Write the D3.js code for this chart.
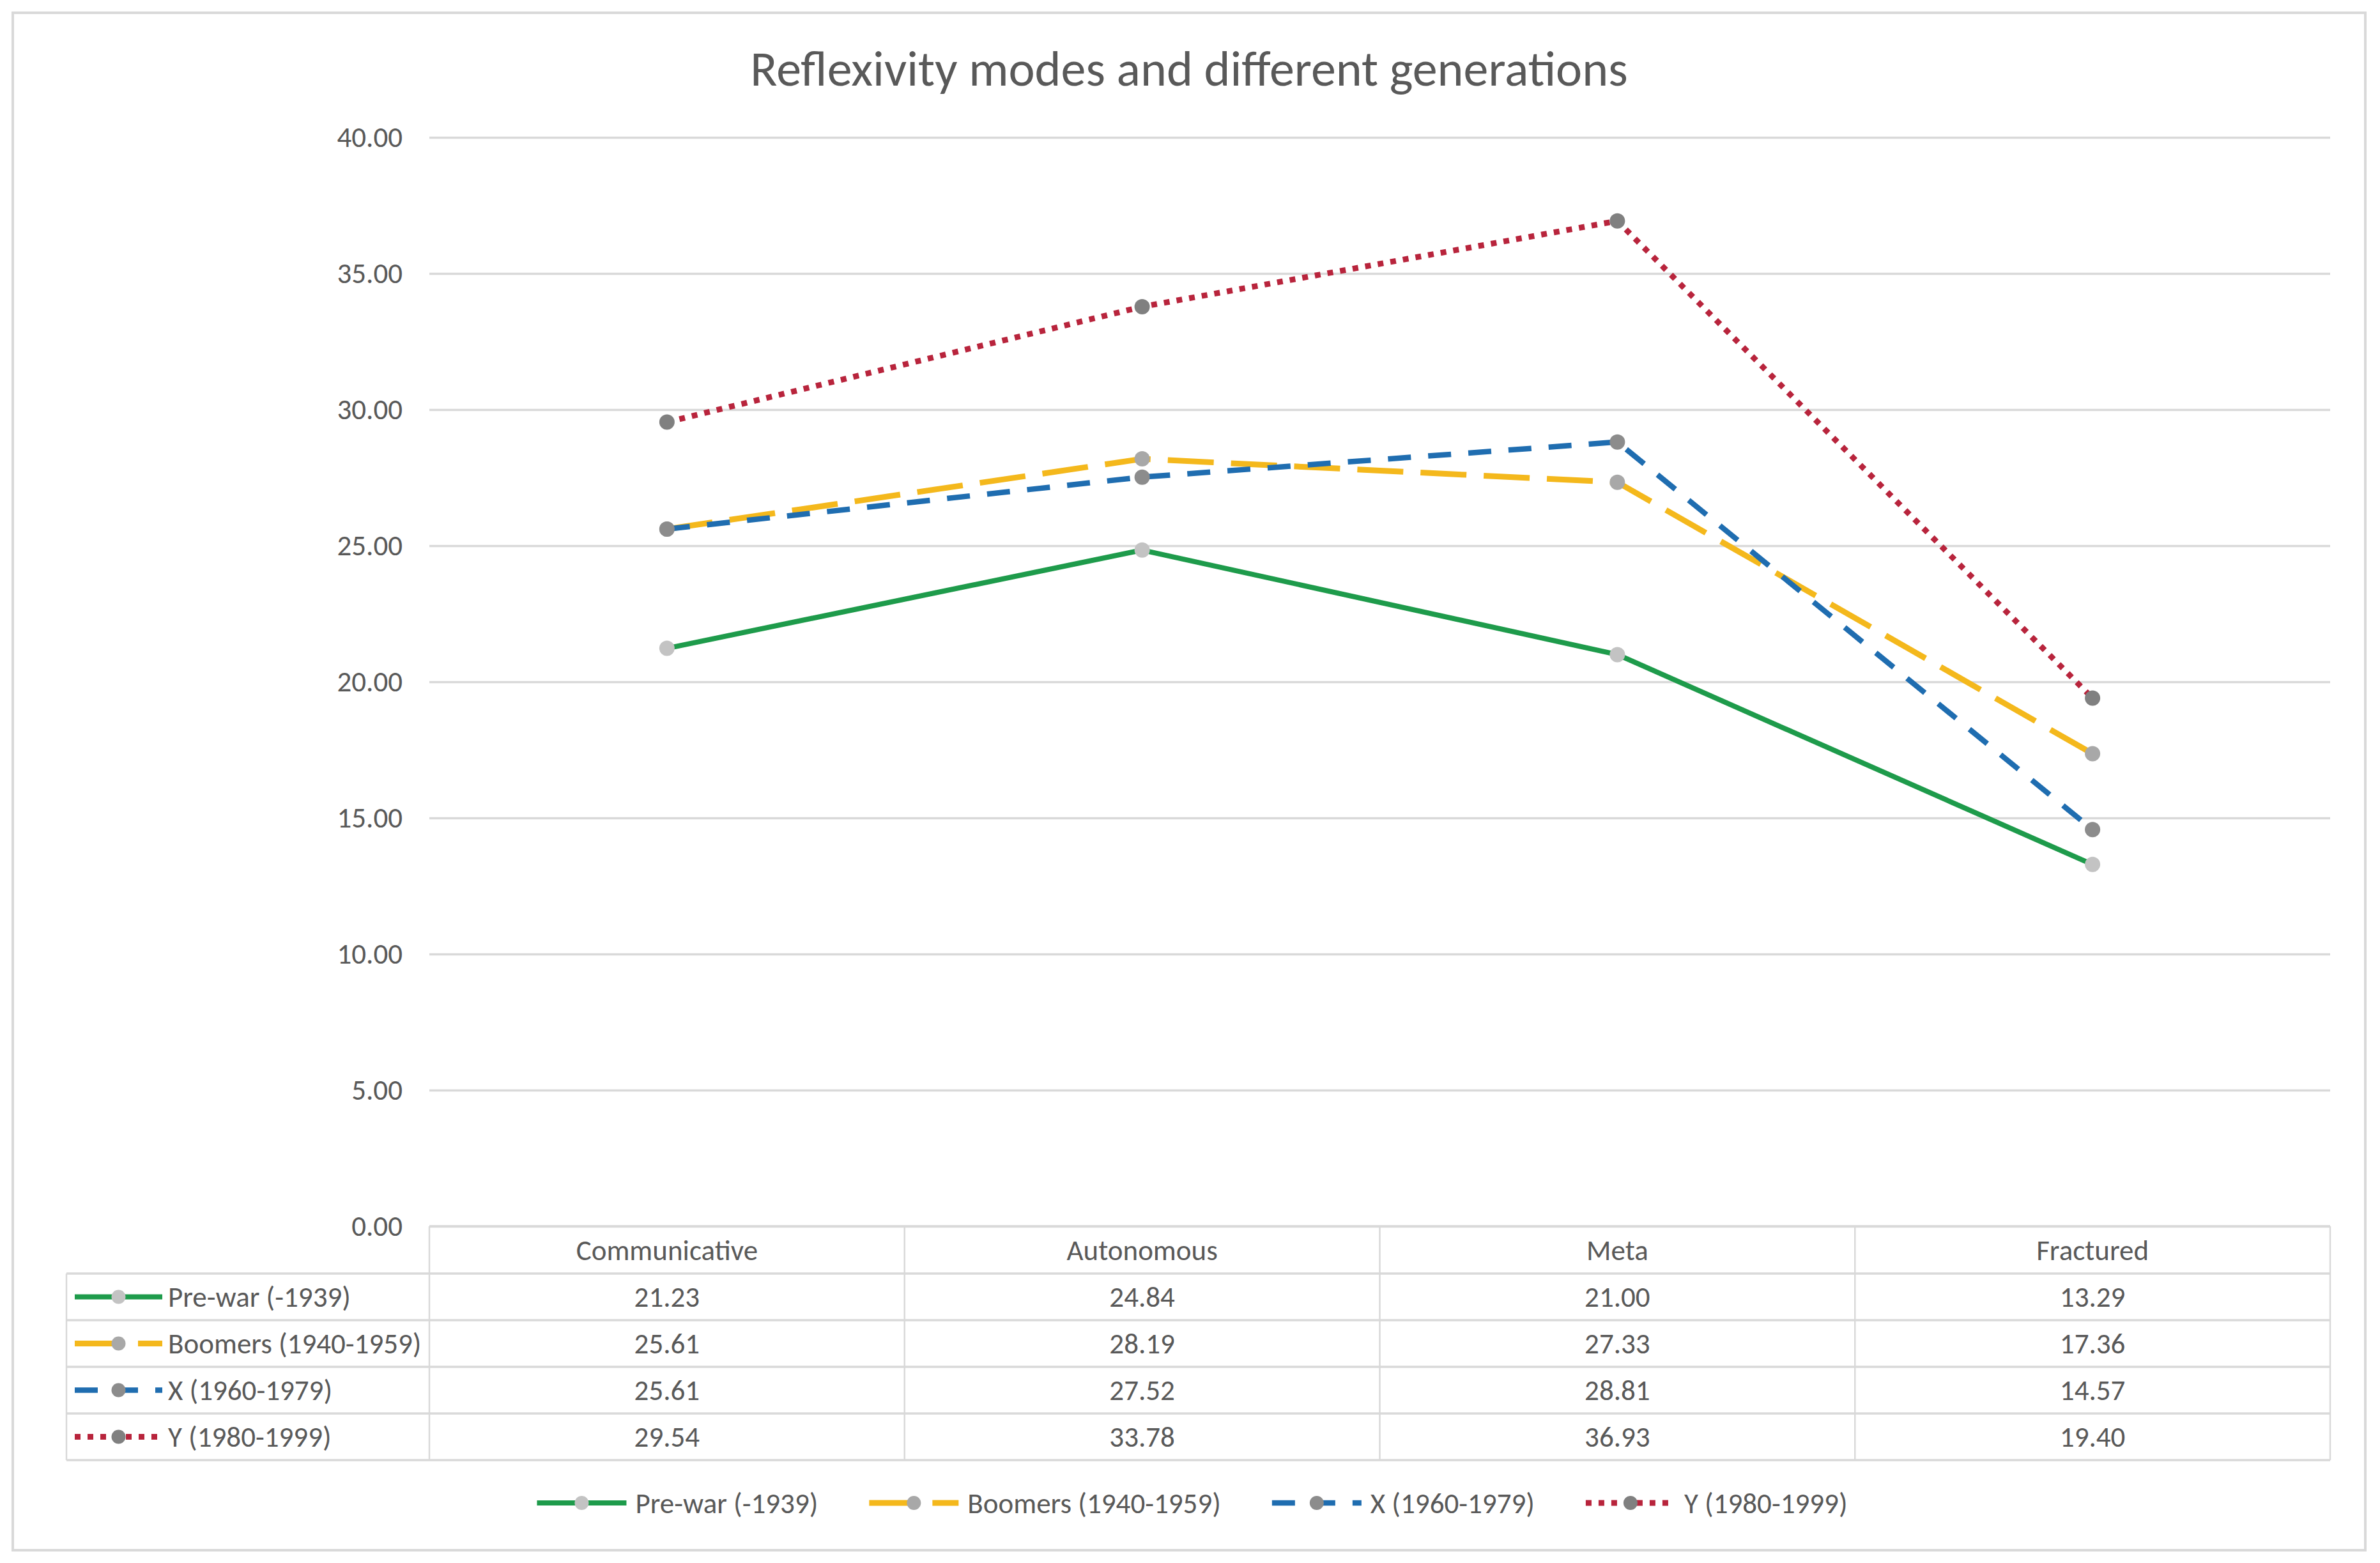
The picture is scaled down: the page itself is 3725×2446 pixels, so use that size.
<!DOCTYPE html>
<html>
<head>
<meta charset="utf-8">
<script src="https://cdn.jsdelivr.net/npm/d3@7"></script>
<style>
  html, body { margin: 0; padding: 0; background: #fff; }
  svg { display: block; }
  text { font-family: Carlito, Calibri, Lato, "Open Sans", sans-serif; fill: #595959; }
</style>
</head>
<body>
<svg id="chart" width="3725" height="2446"></svg>
<script>
// ---- data ----
const title = "Reflexivity modes and different generations";
const categories = ["Communicative", "Autonomous", "Meta", "Fractured"];
const seriesNames = ["Pre-war (-1939)", "Boomers (1940-1959)", "X (1960-1979)", "Y (1980-1999)"];
const preWar  = [21.23, 24.84, 21.00, 13.29];
const boomers = [25.61, 28.19, 27.33, 17.36];
const genX    = [25.61, 27.52, 28.81, 14.57];
const genY    = [29.54, 33.78, 36.93, 19.40];
const yTicks  = [0, 5, 10, 15, 20, 25, 30, 35, 40];

// ---- styles ----
const lineColors   = ["#1E9B4B", "#F4B81C", "#1F6DB0", "#B8243C"];
const markerColors = ["#C3C3C3", "#A8A8A8", "#8C8C8C", "#808080"];
const lineWidths   = [8, 9, 8.5, 9];
const dashes       = [null, "72 27", "36 27", "9 11"];

const seriesValues = [preWar, boomers, genX, genY];
const series = seriesNames.map((name, i) => ({ name, values: seriesValues[i], i }));

const svg = d3.select("#chart");

// outer chart border
svg.append("rect").attr("x", 20).attr("y", 20).attr("width", 3682).attr("height", 2406)
  .attr("fill", "#fff").attr("stroke", "#D9D9D9").attr("stroke-width", 4);

const plotL = 672, plotR = 3647, plotT = 215, plotB = 1919;
const x = d3.scaleBand().domain(categories).range([plotL, plotR]);
const y = d3.scaleLinear().domain([0, 40]).range([plotB, plotT]);

// title
svg.append("text").attr("x", 1861).attr("y", 134).attr("text-anchor", "middle")
  .style("font-size", "78px").text(title);

// y grid + labels
const yAxis = d3.axisLeft(y).tickValues(yTicks).tickFormat(d3.format(".2f"))
  .tickSize(-(plotR - plotL)).tickPadding(42);
const gy = svg.append("g").attr("transform", `translate(${plotL},0)`).call(yAxis);
gy.select(".domain").remove();
gy.selectAll(".tick line").attr("stroke", "#D9D9D9").attr("stroke-width", 3.5);
gy.selectAll(".tick text").attr("fill", "#595959").style("font-size", "45px")
  .style("font-family", "Carlito, Calibri, Lato, 'Open Sans', sans-serif");

// ---- data table ----
const tableL = 104, headerB = 1993, rowH = 73;
const rowY = i => headerB + i * rowH;
const tg = svg.append("g");
const gridStroke = "#D9D9D9";
tg.append("line").attr("x1", plotL).attr("x2", plotR).attr("y1", plotB).attr("y2", plotB)
  .attr("stroke", gridStroke).attr("stroke-width", 3.5);
for (let i = 0; i <= series.length; i++) {
  tg.append("line").attr("x1", tableL).attr("x2", plotR).attr("y1", rowY(i)).attr("y2", rowY(i))
    .attr("stroke", gridStroke).attr("stroke-width", 3.5);
}
const colEdges = categories.map(c => x(c)).concat([plotR]);
colEdges.forEach(cx => {
  tg.append("line").attr("x1", cx).attr("x2", cx).attr("y1", plotB).attr("y2", rowY(series.length))
    .attr("stroke", gridStroke).attr("stroke-width", 2.5);
});
tg.append("line").attr("x1", tableL).attr("x2", tableL).attr("y1", headerB).attr("y2", rowY(series.length))
  .attr("stroke", gridStroke).attr("stroke-width", 2.5);

categories.forEach(c => {
  tg.append("text").attr("x", x(c) + x.bandwidth() / 2).attr("y", (plotB + headerB) / 2)
    .attr("text-anchor", "middle").attr("dominant-baseline", "central")
    .style("font-size", "45px").text(c);
});
const fmt = d3.format(".2f");
function legendKey(g, s, x0, cy, w) {
  const ln = g.append("line").attr("x1", x0).attr("x2", x0 + w).attr("y1", cy).attr("y2", cy)
    .attr("stroke", lineColors[s.i]).attr("stroke-width", lineWidths[s.i]);
  if (dashes[s.i]) ln.attr("stroke-dasharray", dashes[s.i]);
  g.append("circle").attr("cx", x0 + w / 2).attr("cy", cy).attr("r", 11)
    .attr("fill", markerColors[s.i]);
}
series.forEach((s, i) => {
  const cy = (rowY(i) + rowY(i + 1)) / 2;
  legendKey(tg, s, 117, cy, 137);
  tg.append("text").attr("x", 263).attr("y", cy).attr("dominant-baseline", "central")
    .style("font-size", "45px").text(s.name);
  s.values.forEach((v, j) => {
    tg.append("text").attr("x", x(categories[j]) + x.bandwidth() / 2).attr("y", cy)
      .attr("text-anchor", "middle").attr("dominant-baseline", "central")
      .style("font-size", "45px").text(fmt(v));
  });
});

// ---- lines ----
const line = d3.line().x((d, j) => x(categories[j]) + x.bandwidth() / 2).y(d => y(d));
const sg = svg.append("g").selectAll("g").data(series).join("g");
sg.append("path").attr("d", d => line(d.values)).attr("fill", "none")
  .attr("stroke", d => lineColors[d.i]).attr("stroke-width", d => lineWidths[d.i])
  .attr("stroke-dasharray", d => dashes[d.i]).attr("stroke-linejoin", "round");
sg.selectAll("circle").data(d => d.values.map((v, j) => ({ v, j, i: d.i }))).join("circle")
  .attr("cx", d => x(categories[d.j]) + x.bandwidth() / 2).attr("cy", d => y(d.v))
  .attr("r", 12).attr("fill", d => markerColors[d.i]);

// ---- bottom legend ----
const lg = svg.append("g");
const legY = 2352, keyW = 140, keyGap = 14, itemGap = 80;
const items = series.map(s => {
  const g = lg.append("g");
  const t = g.append("text").attr("y", legY).attr("dominant-baseline", "central")
    .style("font-size", "45px").text(s.name);
  return { s, g, t, w: t.node().getComputedTextLength() };
});
const total = d3.sum(items, d => keyW + keyGap + d.w) + itemGap * (items.length - 1);
let cx0 = 1866 - total / 2;
items.forEach(it => {
  legendKey(it.g, it.s, cx0, legY, keyW);
  it.t.attr("x", cx0 + keyW + keyGap);
  cx0 += keyW + keyGap + it.w + itemGap;
});
</script>
</body>
</html>
